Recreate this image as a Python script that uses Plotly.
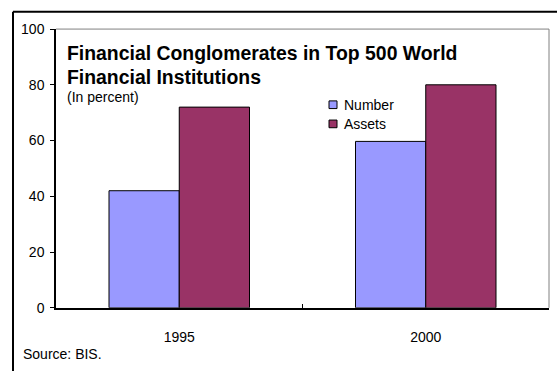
import plotly.graph_objects as go

# Data
years = ["1995", "2000"]
number_pct = [42, 59.7]
assets_pct = [72, 80]
y_ticks = [0, 20, 40, 60, 80, 100]
series_names = ["Number", "Assets"]
series_colors = ["#9999FF", "#993366"]

W, H = 557, 379
FONT = "Liberation Sans, Arial, sans-serif"


def px(x):
    return x / W


def py(y):
    return 1 - y / H


# Plot area in pixels
X0, X1 = 56, 549
Y_TOP, Y_BOT = 22, 313

fig = go.Figure()
for name, color, vals in zip(series_names, series_colors, [number_pct, assets_pct]):
    fig.add_trace(go.Bar(
        name=name, x=years, y=vals,
        marker=dict(color=color, line=dict(color="#000000", width=1)),
    ))

fig.update_layout(
    width=W, height=H,
    margin=dict(l=0, r=0, t=0, b=0),
    paper_bgcolor="white", plot_bgcolor="white",
    barmode="group", bargap=0.43, bargroupgap=0,
    font=dict(family=FONT, size=14, color="#000000"),
    showlegend=False,
    xaxis=dict(
        domain=[px(X0), px(X1)],
        showline=True, linecolor="#000000", linewidth=1.5,
        ticks="inside", tickson="boundaries", ticklen=4, tickcolor="#000000",
        showgrid=False, zeroline=False,
        tickfont=dict(family=FONT, size=14),
        ticklabelstandoff=16,
    ),
    yaxis=dict(
        domain=[py(Y_BOT), py(Y_TOP)],
        range=[0, 100], tickvals=y_ticks,
        showline=True, linecolor="#000000", linewidth=1.5,
        ticks="outside", ticklen=4, tickcolor="#000000",
        showgrid=False, zeroline=False,
        tickfont=dict(family=FONT, size=14),
        ticklabelstandoff=3,
    ),
)

# Gray top and right edges of the plot area
fig.add_shape(type="line", xref="paper", yref="paper",
              x0=px(X0), x1=px(X1), y0=py(Y_TOP), y1=py(Y_TOP),
              line=dict(color="#808080", width=1))
fig.add_shape(type="line", xref="paper", yref="paper",
              x0=px(X1), x1=px(X1), y0=py(Y_TOP), y1=py(Y_BOT),
              line=dict(color="#808080", width=1))

# Outer frame: top and left borders
fig.add_shape(type="line", xref="paper", yref="paper",
              x0=px(13), x1=1, y0=py(4), y1=py(4),
              line=dict(color="#000000", width=2))
fig.add_shape(type="line", xref="paper", yref="paper",
              x0=px(13), x1=px(13), y0=py(4), y1=0,
              line=dict(color="#000000", width=2))

# Legend: small swatches with labels
for i, (name, color) in enumerate(zip(series_names, series_colors)):
    cy = 101 + 20 * i
    fig.add_shape(type="rect", xref="paper", yref="paper",
                  x0=px(329), x1=px(337), y0=py(cy + 4), y1=py(cy - 4),
                  fillcolor=color, line=dict(color="#000000", width=1))
    fig.add_annotation(text=name, xref="paper", yref="paper",
                       x=px(342), y=py(cy), xanchor="left", yanchor="middle",
                       showarrow=False,
                       font=dict(family=FONT, size=14, color="#000000"))

# Title block
fig.add_annotation(text="<b>Financial Conglomerates in Top 500 World</b>",
                   xref="paper", yref="paper", x=px(65), y=py(47),
                   xanchor="left", yanchor="middle", showarrow=False,
                   font=dict(family=FONT, size=19.4, color="#000000"))
fig.add_annotation(text="<b>Financial Institutions</b>",
                   xref="paper", yref="paper", x=px(65), y=py(72),
                   xanchor="left", yanchor="middle", showarrow=False,
                   font=dict(family=FONT, size=19.4, color="#000000"))
fig.add_annotation(text="(In percent)",
                   xref="paper", yref="paper", x=px(65), y=py(93),
                   xanchor="left", yanchor="middle", showarrow=False,
                   font=dict(family=FONT, size=14, color="#000000"))
fig.add_annotation(text="Source: BIS.",
                   xref="paper", yref="paper", x=px(21), y=py(361),
                   xanchor="left", yanchor="middle", showarrow=False,
                   font=dict(family=FONT, size=14, color="#000000"))

fig.write_html("out.html")
